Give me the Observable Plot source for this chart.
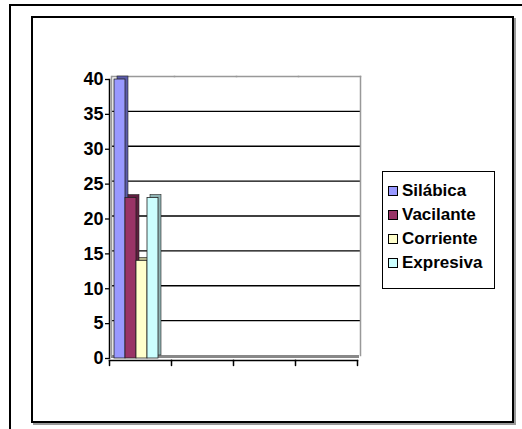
<!DOCTYPE html>
<html>
<head>
<meta charset="utf-8">
<script src="https://cdn.jsdelivr.net/npm/d3@7"></script>
<script src="https://cdn.jsdelivr.net/npm/@observablehq/plot@0.6"></script>
<style>
  body { margin: 0; background: #fff; }
  #wrap { position: relative; width: 522px; height: 429px; overflow: hidden; background: #fff; font-family: "Liberation Sans", Arial, sans-serif; }
  #outer { position: absolute; left: 9px; top: 4px; width: 600px; height: 600px; border-left: 2px solid #000; border-top: 2px solid #000; }
  #area { position: absolute; left: 31px; top: 16px; width: 479px; height: 403px; border: 2px solid #000; box-shadow: 2px 2px 0 #999; }
  #chart { position: absolute; left: 0; top: 0; }
  #legend { position: absolute; left: 382px; top: 171px; width: 113px; height: 118px; border: 1.5px solid #000; background: #fff; box-sizing: border-box; padding-top: 7px; }
  .item { height: 24px; display: flex; align-items: center; font-weight: bold; font-size: 17px; color: #000; padding-left: 5px; }
  .sw { width: 8px; height: 8px; border: 1px solid #000; margin-right: 4px; }
</style>
</head>
<body>
<div id="wrap">
  <div id="outer"></div>
  <div id="area"></div>
  <div id="chart"></div>
  <div id="legend"></div>
</div>
<script>
const categories = ["c1", "c2", "c3", "c4"];
const series = ["Silábica", "Vacilante", "Corriente", "Expresiva"];
const values = [40, 23, 14, 23];
const yTicks = [0, 5, 10, 15, 20, 25, 30, 35, 40];
const colors = ["#9999FF", "#993366", "#FFFFCC", "#CCFFFF"];
const sideColors = ["#5c5caa", "#5e1f3f", "#b8b88f", "#8fb3b3"];

const data = series.map((s, i) => ({cat: categories[0], series: s, value: values[i]}));
const fillOf = d => colors[series.indexOf(d.series)];
const sideOf = d => sideColors[series.indexOf(d.series)];

const tickShape = {draw(context, l) { context.moveTo(0, 0); context.lineTo(0, -l); }};

const chart = Plot.plot({
  width: 522,
  height: 429,
  marginLeft: 107,
  marginRight: 164,
  marginTop: 79,
  marginBottom: 71,
  style: {background: "transparent", fontFamily: "'Liberation Sans', Arial, sans-serif", color: "#000"},
  fx: {domain: categories, padding: 0, axis: null},
  x: {domain: series, paddingInner: 0, paddingOuter: 0.7, align: 0.3, axis: null},
  y: {domain: [0, 40], axis: null},
  color: {type: "identity"},
  marks: [
    // floor (faceted, so every category slot is drawn)
    Plot.ruleY(categories, {fx: d => d, y: 0, stroke: "#888", strokeWidth: 3, dx: 2, dy: -2}),
    Plot.gridY(yTicks.filter(t => t > 0 && t < 40), {stroke: "#000", strokeOpacity: 1, strokeWidth: 1.3, dx: 3, dy: -3}),
    Plot.frame({anchor: "top", stroke: "#999", strokeWidth: 1.5, dx: 3, dy: -3}),
    Plot.frame({anchor: "left", facetAnchor: "left", stroke: "#999", strokeWidth: 1.5, dx: 2, dy: -3}),
    Plot.frame({anchor: "right", facetAnchor: "right", stroke: "#999", strokeWidth: 1.5, dx: 3, dy: -3}),
    Plot.barY(data, {fx: "cat", x: "series", y: "value", fill: sideOf, stroke: "#222", strokeWidth: 0.6, dx: 3, dy: -3}),
    Plot.barY(data, {fx: "cat", x: "series", y: "value", fill: fillOf, stroke: "#222", strokeWidth: 0.8}),
    Plot.axisY(yTicks, {tickSize: 4, tickPadding: 2, fontSize: 18, fontWeight: "bold", label: null, stroke: "#000", fill: "#000", strokeWidth: 1.3}),
    Plot.frame({anchor: "left", facetAnchor: "left", stroke: "#000", strokeWidth: 1.5}),
    Plot.frame({anchor: "bottom", stroke: "#000", strokeWidth: 1.5, dy: 2}),
    Plot.vector([0], {frameAnchor: "bottom-left", length: 5, rotate: 180, anchor: "start", shape: tickShape, stroke: "#000", strokeWidth: 1.5, dy: 2}),
    Plot.vector([0], {frameAnchor: "bottom-right", facetAnchor: "right", length: 5, rotate: 180, anchor: "start", shape: tickShape, stroke: "#000", strokeWidth: 1.5, dy: 2})
  ]
});
document.getElementById("chart").appendChild(chart);

const legend = document.getElementById("legend");
series.forEach((s, i) => {
  const item = document.createElement("div");
  item.className = "item";
  const sw = document.createElement("span");
  sw.className = "sw";
  sw.style.background = colors[i];
  item.appendChild(sw);
  item.appendChild(document.createTextNode(s));
  legend.appendChild(item);
});
</script>
</body>
</html>
